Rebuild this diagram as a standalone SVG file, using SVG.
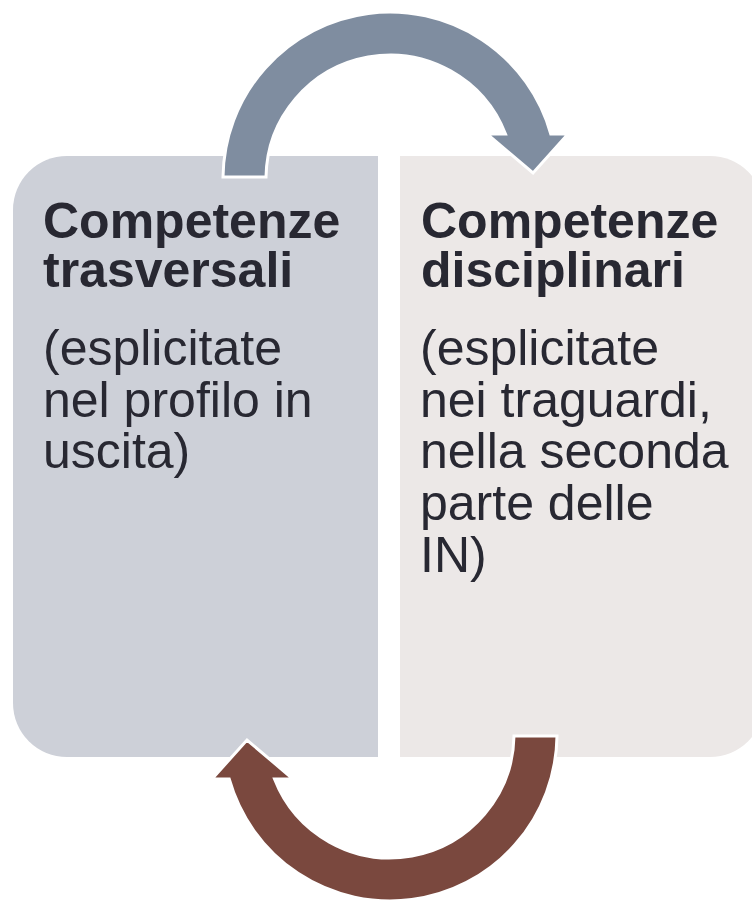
<svg xmlns="http://www.w3.org/2000/svg" width="752" height="901" viewBox="0 0 752 901">
  <defs>
    <style>
      .title { font-family: "Liberation Sans", Arial, sans-serif; font-weight: bold; font-size: 50px; fill: #282832; }
      .body { font-family: "Liberation Sans", Arial, sans-serif; font-size: 50px; fill: #282832; }
      .arrow { stroke: #FFFFFF; stroke-width: 3; stroke-linejoin: miter; }
    </style>
    <path id="arrowShape" d="M 223,177 A 167 167 0 0 1 550.8,134 L 568,134 L 533,173 L 487,134 L 505.5,134 A 124 124 0 0 0 266,177 Z"/>
  </defs>
  <rect width="752" height="901" fill="#FFFFFF"/>

  <g id="node-trasversali">
    <path d="M 378,156 L 378,757 L 67,757 A 54 54 0 0 1 13,703 L 13,210 A 54 54 0 0 1 67,156 Z" fill="#CDD0D8"/>
    <text class="title" x="43" y="238">Competenze</text>
    <text class="title" x="43" y="287">trasversali</text>
    <text class="body" x="43" y="365">(esplicitate</text>
    <text class="body" x="43" y="416.7">nel profilo in</text>
    <text class="body" x="43" y="468.4">uscita)</text>
  </g>

  <g id="node-disciplinari">
    <path d="M 400,156 L 710,156 A 54 54 0 0 1 764,210 L 764,703 A 54 54 0 0 1 710,757 L 400,757 Z" fill="#ECE8E7"/>
    <text class="title" x="421" y="238">Competenze</text>
    <text class="title" x="421" y="287">disciplinari</text>
    <text class="body" x="420" y="365">(esplicitate</text>
    <text class="body" x="420" y="416.7">nei traguardi,</text>
    <text class="body" x="420" y="468.4">nella seconda</text>
    <text class="body" x="420" y="520.1">parte delle</text>
    <text class="body" x="420" y="571.8">IN)</text>
  </g>

  <g id="connectors">
    <use href="#arrowShape" class="arrow" fill="#7F8DA0"/>
    <use href="#arrowShape" class="arrow" fill="#7A483E" transform="rotate(180 390 456.5)"/>
  </g>
</svg>
